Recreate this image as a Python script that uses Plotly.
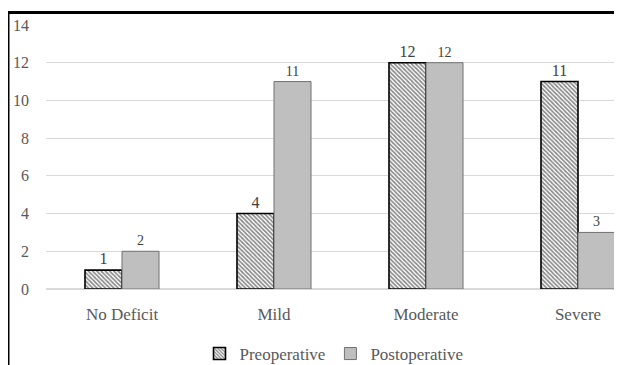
import plotly.graph_objects as go

categories = ["No Deficit", "Mild", "Moderate", "Severe"]
preoperative = [1, 4, 12, 11]
postoperative = [2, 11, 12, 3]
y_ticks = [0, 2, 4, 6, 8, 10, 12, 14]

# page body has an 8px margin, so the figure is laid out in shifted coordinates
W, H = 614, 357
ml, mt, mb, mr = 38, 17, 76, 0
pw, ph = W - ml - mr, H - mt - mb
SERIF = "Liberation Serif"

fig = go.Figure()
fig.add_trace(go.Bar(
    name="Preoperative", x=categories, y=preoperative,
    text=[str(v) for v in preoperative], textposition="outside",
    textfont=dict(family=SERIF, size=16, color="#404040"),
    marker=dict(color="white", line=dict(color="black", width=1.6),
                pattern=dict(shape="\\", fgcolor="#111111", bgcolor="#ffffff",
                             size=3, solidity=0.55, fillmode="overlay")),
    cliponaxis=False,
))
fig.add_trace(go.Bar(
    name="Postoperative", x=categories, y=postoperative,
    text=[str(v) for v in postoperative], textposition="outside",
    textfont=dict(family=SERIF, size=14, color="#404040"),
    marker=dict(color="#bfbfbf", line=dict(color="#707070", width=1)),
    cliponaxis=False,
))

x_range_end = -0.5 + pw / 152.0

fig.update_layout(
    width=W, height=H,
    margin=dict(l=ml, r=mr, t=mt, b=mb, autoexpand=False),
    paper_bgcolor="white", plot_bgcolor="white",
    font=dict(family=SERIF, size=16, color="#595959"),
    barmode="group", bargap=0.513, bargroupgap=0,
    showlegend=True,
    legend=dict(orientation="h", x=0.5, xanchor="center",
                y=(281 - 346) / ph, yanchor="middle",
                font=dict(family=SERIF, size=17, color="#595959"), itemwidth=30,
                traceorder="normal", borderwidth=0, bgcolor="rgba(0,0,0,0)"),
    xaxis=dict(range=[-0.5, x_range_end], showgrid=False, showline=False,
               ticks="", tickfont=dict(family=SERIF, size=17, color="#595959"),
               ticklabelstandoff=13),
    yaxis=dict(range=[0, 14], tickvals=y_ticks, showgrid=True, gridcolor="#d9d9d9",
               gridwidth=1, zeroline=True, zerolinecolor="#d9d9d9", showline=False,
               ticks="", tickfont=dict(family=SERIF, size=16, color="#595959"),
               ticklabelstandoff=16),
    shapes=[
        dict(type="line", xref="paper", yref="paper",
             x0=(0.0 - ml) / pw, x1=(0.0 - ml) / pw,
             y0=1 + (mt - 3) / ph, y1=-mb / ph - 0.05,
             line=dict(color="black", width=3)),
        dict(type="line", xref="paper", yref="paper",
             x0=(-1 - ml) / pw, x1=1.05,
             y0=1 + (mt - 4.5) / ph, y1=1 + (mt - 4.5) / ph,
             line=dict(color="black", width=3)),
    ],
)

fig.write_html("out.html")
